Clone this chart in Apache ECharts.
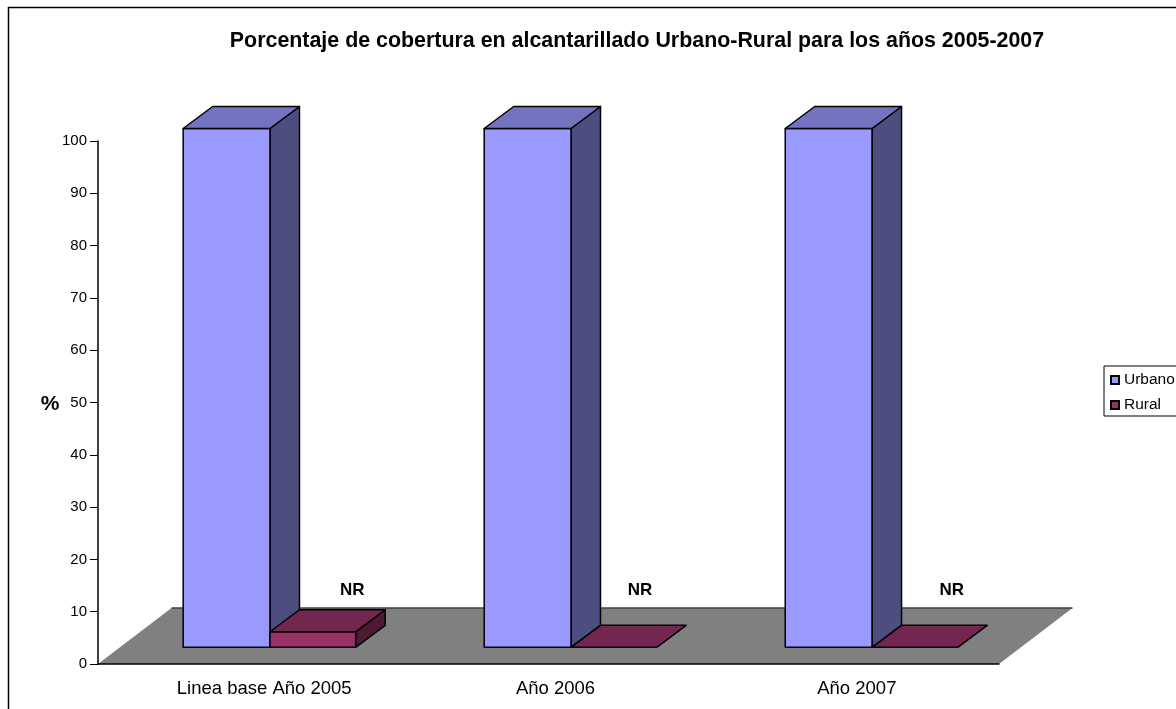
<!DOCTYPE html>
<html>
<head>
<meta charset="utf-8">
<style>
  html, body { margin: 0; padding: 0; background: #fff; }
  #chart { width: 1176px; height: 709px; }
</style>
<script src="https://cdn.jsdelivr.net/npm/echarts@6/dist/echarts.min.js"></script>
</head>
<body>
<div id="chart"></div>
<script>
// datos
var categories = ['Linea base Año 2005', 'Año 2006', 'Año 2007'];
var urbano = [100, 100, 100];
var rural = [3, 0, 0];
var ruralLabels = ['NR', 'NR', 'NR'];
var yTicks = [0, 10, 20, 30, 40, 50, 60, 70, 80, 90, 100];

var fontFamily = '"Liberation Sans", Arial, sans-serif';

// falso 3D: desplazamientos en px del plano de las barras
var baseLift = 16.7;      // la base de la barra queda sobre el suelo
var frontScale = 0.992;   // el plano frontal es un poco mas pequeño que el eje
var stepNudge = 0.7;      // las barras van a 301px y las categorias a 300.3px
var depthX = 29.5;
var depthY = -22;
var floorX = 73.5;
var floorY = -56;
var nrShift = [104, 91.5, 103];
var labelPad = [32, 14, 16]; // las etiquetas del eje x no van centradas

function project(api, i, v) {
  var p0 = api.coord([i, 0]);
  var p = api.coord([i, v]);
  return { x: p0[0] + i * stepNudge, base: p0[1] - baseLift, top: p0[1] - baseLift - (p0[1] - p[1]) * frontScale };
}

function poly(points, fill) {
  return {
    type: 'polygon',
    shape: { points: points },
    style: { fill: fill, stroke: '#000', lineWidth: 1.5, lineJoin: 'round' }
  };
}

function box(left, right, base, top, colors) {
  var kids = [];
  if (top < base) {
    kids.push(poly([[right, base], [right + depthX, base + depthY], [right + depthX, top + depthY], [right, top]], colors.side));
    kids.push(poly([[left, base], [right, base], [right, top], [left, top]], colors.front));
  }
  kids.push(poly([[left, top], [right, top], [right + depthX, top + depthY], [left + depthX, top + depthY]], colors.top));
  return kids;
}

function renderFloor(params, api) {
  var rect = params.coordSys;
  var y0 = rect.y + rect.height;
  var x0 = rect.x;
  var x1 = rect.x + rect.width;
  return {
    type: 'group',
    children: [
      {
        type: 'polygon',
        shape: { points: [[x0, y0], [x1, y0], [x1 + floorX, y0 + floorY], [x0 + floorX, y0 + floorY]] },
        style: { fill: '#808080' }
      },
      {
        type: 'line',
        shape: { x1: x0 + floorX, y1: y0 + floorY, x2: x1 + floorX, y2: y0 + floorY },
        style: { stroke: '#404040', lineWidth: 1.5 }
      }
    ]
  };
}

function renderUrbano(params, api) {
  var i = api.value(0);
  var p = project(api, i, api.value(1));
  return {
    type: 'group',
    children: box(p.x - 65, p.x + 21.8, p.base, p.top, { front: '#9999FF', side: '#4D4D80', top: '#7373BF' })
  };
}

function renderRural(params, api) {
  var i = api.value(0);
  var p = project(api, i, api.value(1));
  var kids = box(p.x + 21.8, p.x + 107.5, p.base, p.top, { front: '#993366', side: '#4D1933', top: '#732650' });
  kids.push({
    type: 'text',
    style: {
      x: api.coord([i, 0])[0] + nrShift[i],
      y: 590,
      text: ruralLabels[i],
      fill: '#000',
      font: 'bold 17px ' + fontFamily,
      align: 'center',
      verticalAlign: 'middle'
    }
  });
  return { type: 'group', children: kids };
}

var chart = echarts.init(document.getElementById('chart'));

chart.setOption({
  animation: false,
  backgroundColor: '#fff',
  graphic: [
    {
      type: 'rect',
      silent: true,
      shape: { x: 8.5, y: 7.5, width: 1400, height: 900 },
      style: { fill: 'none', stroke: '#000', lineWidth: 1.5 }
    },
    {
      // el % va un poco mas bajo que el centro del eje
      type: 'text',
      silent: true,
      style: {
        x: 50,
        y: 404,
        text: '%',
        fill: '#000',
        font: 'bold 21px ' + fontFamily,
        align: 'center',
        verticalAlign: 'middle'
      }
    }
  ],
  title: {
    text: 'Porcentaje de cobertura en alcantarillado Urbano-Rural para los años 2005-2007',
    left: 632,
    top: 26,
    textAlign: 'center',
    textStyle: { fontFamily: fontFamily, fontWeight: 'bold', fontSize: 21.4, color: '#000' }
  },
  legend: {
    left: 1104,
    top: 366,
    orient: 'vertical',
    padding: [6, 60, 3, 6],
    itemWidth: 8,
    itemHeight: 8,
    itemGap: 9,
    borderColor: '#000',
    borderWidth: 1,
    icon: 'rect',
    textStyle: { fontFamily: fontFamily, fontSize: 15.5, color: '#000' },
    data: ['Urbano', 'Rural']
  },
  grid: { left: 98, right: 177, top: 141, bottom: 45, containLabel: false },
  xAxis: {
    type: 'category',
    data: categories.map(function (c, i) {
      return { value: c, textStyle: { padding: [0, 0, 0, labelPad[i]] } };
    }),
    z: 10,
    axisLine: { lineStyle: { color: '#000', width: 1.5 } },
    axisTick: { length: 8, lineStyle: { color: '#000' } },
    axisLabel: { margin: 15, fontFamily: fontFamily, fontSize: 18.5, color: '#000' }
  },
  yAxis: {
    type: 'value',
    min: yTicks[0],
    max: yTicks[yTicks.length - 1],
    interval: 10,
    z: 10,
    splitLine: { show: false },
    axisLine: { show: true, lineStyle: { color: '#000', width: 1.5 } },
    axisTick: { show: true, length: 8, lineStyle: { color: '#000' } },
    axisLabel: { margin: 11, fontFamily: fontFamily, fontSize: 15, color: '#000' }
  },
  series: [
    {
      name: 'Suelo',
      type: 'custom',
      z: 1,
      silent: true,
      renderItem: renderFloor,
      data: [[0, 0]]
    },
    {
      name: 'Urbano',
      type: 'custom',
      z: 2,
      itemStyle: { color: '#9999FF', borderColor: '#000', borderWidth: 1 },
      renderItem: renderUrbano,
      encode: { x: 0, y: 1 },
      data: urbano.map(function (v, i) { return [i, v]; })
    },
    {
      name: 'Rural',
      type: 'custom',
      z: 3,
      itemStyle: { color: '#993366', borderColor: '#000', borderWidth: 1 },
      renderItem: renderRural,
      encode: { x: 0, y: 1 },
      data: rural.map(function (v, i) { return [i, v]; })
    }
  ]
});
</script>
</body>
</html>
